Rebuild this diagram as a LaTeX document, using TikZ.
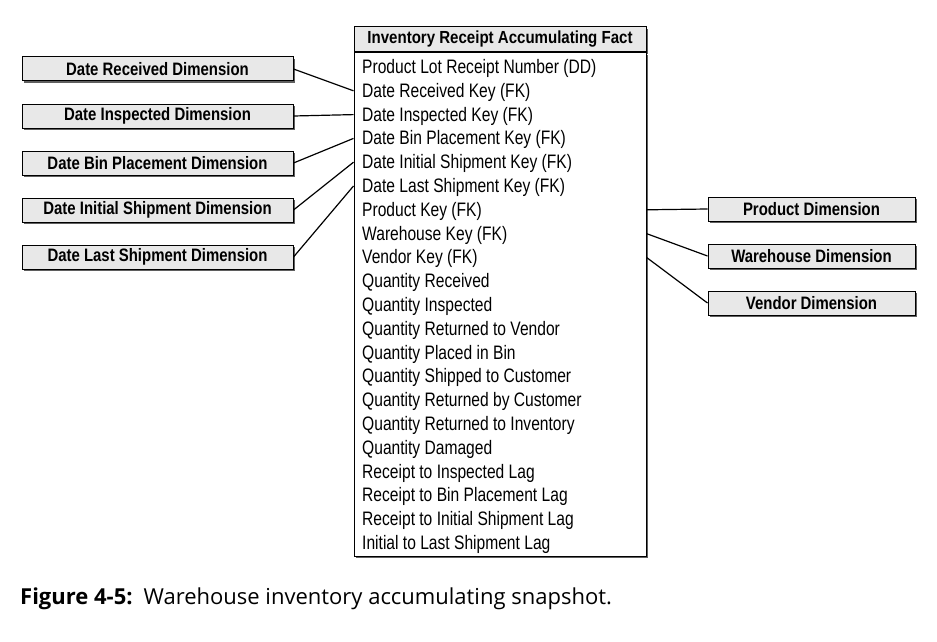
\documentclass[tikz,border=0pt]{standalone}
\usepackage{fontspec}
\setmainfont{Liberation Sans}
\newfontfamily\rowfont[FakeStretch=0.80]{Liberation Sans}
\newfontfamily\dimfont[FakeStretch=0.83]{Liberation Sans}
\newfontfamily\headfont[FakeStretch=0.86]{Liberation Sans}
\newfontfamily\capfont{Open Sans}
\usetikzlibrary{positioning,shadows}
\definecolor{boxgray}{RGB}{232,232,232}
\definecolor{shadegray}{RGB}{95,95,95}

\begin{document}
\begin{tikzpicture}[x=1pt,y=-1pt,
  font=\rowfont\fontsize{19.5}{22}\selectfont,
  shade/.style={drop shadow={shadow xshift=1.6pt,shadow yshift=-1.6pt,fill=shadegray,opacity=1}},
  dimbox/.style={draw=black,line width=1pt,fill=boxgray,minimum height=24pt,inner sep=0pt,shade,
    font=\dimfont\bfseries\fontsize{18}{20}\selectfont},
  facthead/.style={draw=black,line width=1pt,fill=boxgray,minimum width=292pt,minimum height=25pt,inner sep=0pt,
    font=\headfont\bfseries\fontsize{17.5}{20}\selectfont},
  factbody/.style={draw=black,line width=1pt,fill=white,minimum width=292pt,minimum height=503pt,inner sep=0pt,shade},
  attr/.style={anchor=base west,inner sep=0pt,text height=14pt,text depth=1pt},
  link/.style={black,line width=1.2pt}]

\useasboundingbox (0,0) rectangle (937,642);

% ---- the fact table ----
\node[facthead,shade] (head) at (500,39.5) {Inventory Receipt Accumulating Fact};
\node[factbody,below=0pt of head] (body) {};
\foreach \txt [count=\i] in {{Product Lot Receipt Number (DD)},{Date Received Key (FK)},
    {Date Inspected Key (FK)},{Date Bin Placement Key (FK)},{Date Initial Shipment Key (FK)},
    {Date Last Shipment Key (FK)},{Product Key (FK)},{Warehouse Key (FK)},{Vendor Key (FK)},
    {Quantity Received},{Quantity Inspected},{Quantity Returned to Vendor},{Quantity Placed in Bin},
    {Quantity Shipped to Customer},{Quantity Returned by Customer},{Quantity Returned to Inventory},
    {Quantity Damaged},{Receipt to Inspected Lag},{Receipt to Bin Placement Lag},
    {Receipt to Initial Shipment Lag},{Initial to Last Shipment Lag}}
  \node[attr] (r\i) at ({362},{73.5+23.8*(\i-1)}) {\txt};

% ---- date dimensions (west) ----
\node[dimbox,minimum width=271pt] (dRecv) at (157.5,69) {Date Received Dimension};
\node[dimbox,minimum width=271pt] (dInsp) at (157.5,116) {Date Inspected Dimension};
\node[dimbox,minimum width=271pt] (dBin) at (157.5,163) {Date Bin Placement Dimension};
\node[dimbox,minimum width=271pt] (dInit) at (157.5,210) {Date Initial Shipment Dimension};
\node[dimbox,minimum width=271pt] (dLast) at (157.5,257) {Date Last Shipment Dimension};

\draw[link] (dRecv.east) -- (r2.west -| body.west);
\draw[link] (dInsp.east) -- (r3.west -| body.west);
\draw[link] (dBin.east) -- (r4.west -| body.west);
\draw[link] (dInit.east) -- (r5.west -| body.west);
\draw[link] (dLast.east) -- (r6.west -| body.west);

% ---- other dimensions (east) ----
\node[dimbox,minimum width=207pt] (dProd) at (811.5,209) {Product Dimension};
\node[dimbox,minimum width=207pt] (dWare) at (811.5,256) {Warehouse Dimension};
\node[dimbox,minimum width=207pt] (dVend) at (811.5,303) {Vendor Dimension};

\draw[link] (r7.west -| body.east) -- (dProd.west);
\draw[link] (r8.west -| body.east) -- (dWare.west);
\draw[link] (r9.west -| body.east) -- (dVend.west);

% caption
\node[anchor=base west,inner sep=0pt,font=\capfont\fontsize{22}{25}\selectfont] (cap) at (20,604)
  {\textbf{Figure 4-5:}\enspace Warehouse inventory accumulating snapshot.};
\end{tikzpicture}
\end{document}
